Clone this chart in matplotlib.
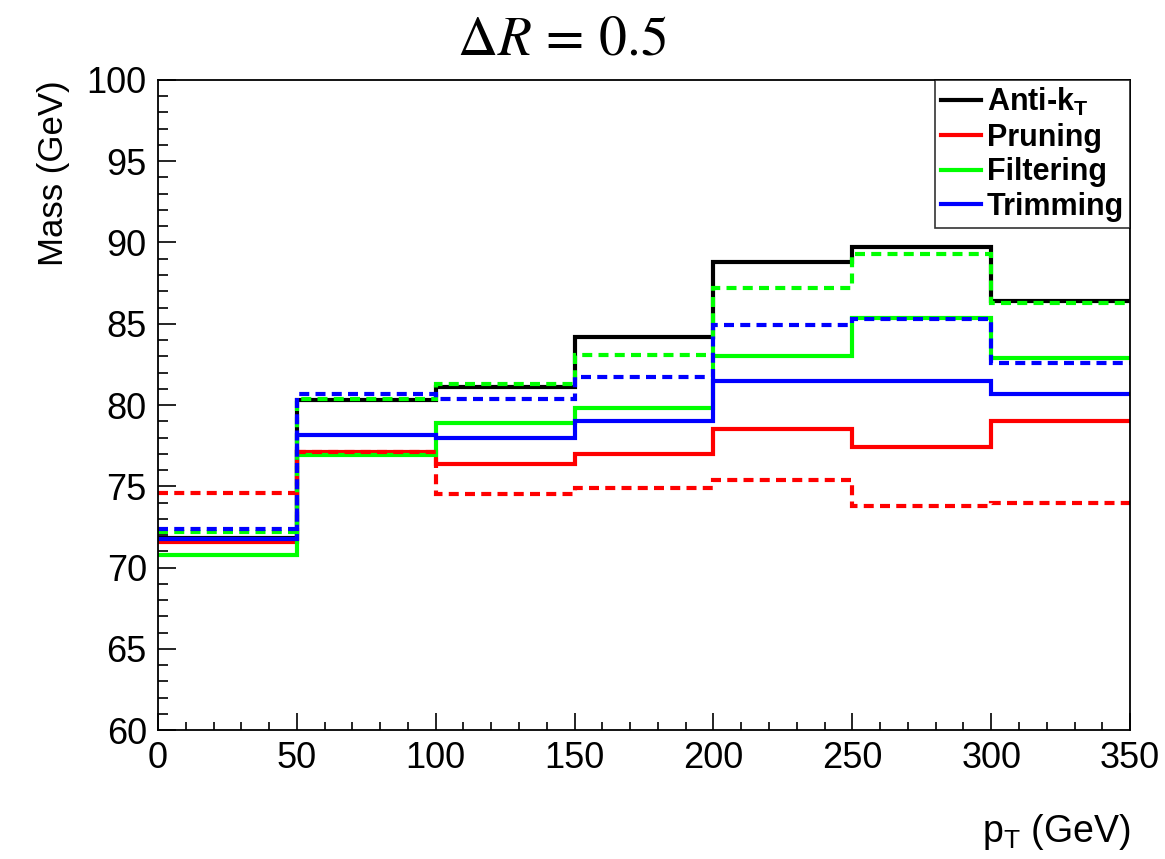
"""
Jet mass vs pT for groomed / ungroomed jets, Delta R = 0.5
"""
from matplotlib import pyplot as plt
from matplotlib.lines import Line2D
import numpy as np

plt.rcParams['font.family'] = ['Liberation Sans', 'DejaVu Sans']
plt.rcParams['mathtext.fontset'] = 'custom'
plt.rcParams['mathtext.rm'] = 'Liberation Sans'
plt.rcParams['mathtext.it'] = 'Liberation Sans:italic'
plt.rcParams['mathtext.bf'] = 'Liberation Sans:bold'

pt_edges = [0, 50, 100, 150, 200, 250, 300, 350]

# solid lines
antikt = [71.8, 80.3, 81.1, 84.2, 88.8, 89.7, 86.4]
pruning = [71.6, 77.1, 76.4, 77.0, 78.5, 77.4, 79.0]
filtering = [70.8, 76.9, 78.9, 79.8, 83.0, 85.35, 82.9]
trimming = [71.75, 78.15, 78.0, 79.0, 81.5, 81.5, 80.7]

# dashed lines (pruning bin 1 sits under the solid lines)
pruning_d = [74.6, 77.1, 74.5, 74.9, 75.4, 73.8, 74.0]
filtering_d = [72.2, 80.4, 81.3, 83.1, 87.2, 89.3, 86.3]
trimming_d = [72.4, 80.7, 80.4, 81.7, 84.9, 85.3, 82.6]

names = ['Anti-k$_{\\mathbf{T}}$', 'Pruning', 'Filtering', 'Trimming']
colors = ['#000000', '#ff0000', '#00ff00', '#0000ff']

fig = plt.figure(figsize=(11.65, 8.59), dpi=100)
ax = fig.add_axes([0.1356, 0.1501, 0.8344, 0.7568])

lw = 3.0
for vals, c in zip([antikt, pruning, filtering, trimming], colors):
    ax.stairs(vals, pt_edges, baseline=None, color=c, lw=lw)
for vals, c in zip([pruning_d, filtering_d, trimming_d], colors[1:]):
    ax.stairs(vals, pt_edges, baseline=None, color=c, lw=lw,
              linestyle=(0, (2.4, 1.5)))

ax.set_xlim(0, 350)
ax.set_ylim(60, 100)
ax.set_xticks(np.arange(0, 351, 50))
ax.set_xticks(np.arange(0, 351, 10), minor=True)
ax.set_yticks(np.arange(60, 101, 5))
ax.set_yticks(np.arange(60, 101, 1), minor=True)
ax.tick_params(which='both', direction='in', top=False, right=False,
               labelsize=26, width=1.2, pad=8)
ax.tick_params(which='major', axis='y', length=13)
ax.tick_params(which='minor', axis='y', length=7)
ax.tick_params(which='major', axis='x', length=12)
ax.tick_params(which='minor', axis='x', length=6)
for s in ax.spines.values():
    s.set_linewidth(1.3)

ax.set_ylabel('Mass (GeV)', fontsize=25, loc='top', labelpad=12)
ax.set_xlabel('p$_{\\mathrm{T}}$ (GeV)', fontsize=27, loc='right', labelpad=26)

fig.text(0.482, 0.953, r'$\Delta R\, =\, 0.5$', fontsize=40, ha='center',
         va='center', math_fontfamily='stix')

handles = [Line2D([0], [0], color=c, lw=lw) for c in colors]
leg = ax.legend(handles, names, loc='upper right', prop={'weight': 'bold', 'size': 22},
                frameon=True, fancybox=False, edgecolor='black', borderaxespad=0.0,
                handlelength=1.3, handletextpad=0.2, labelspacing=0.15,
                borderpad=0.2)
leg.get_frame().set_linewidth(1.2)

plt.savefig('out.png', dpi=100)
